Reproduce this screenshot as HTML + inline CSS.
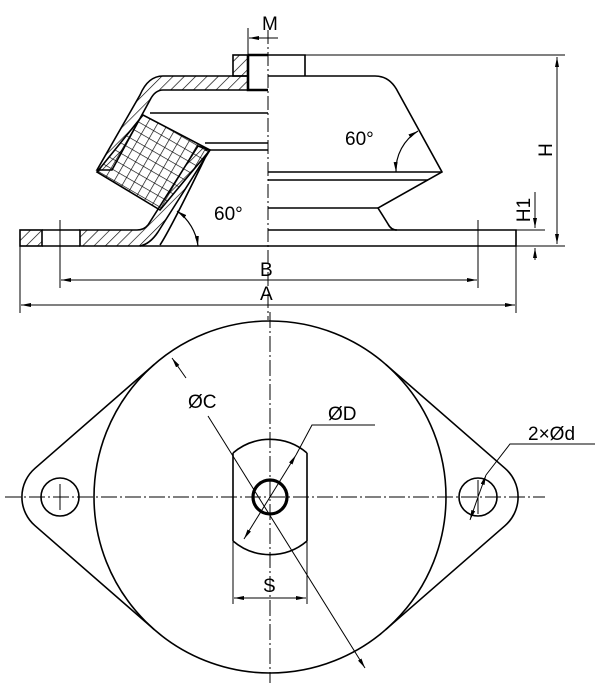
<!DOCTYPE html>
<html><head><meta charset="utf-8"><style>
html,body{margin:0;padding:0;background:#fff}
svg{display:block}
text{font-family:"Liberation Sans Narrow","Liberation Sans",sans-serif;fill:#000}
</style></head><body>
<svg width="602" height="683" viewBox="0 0 602 683" xmlns="http://www.w3.org/2000/svg">
<defs>
<pattern id="h" width="8" height="8" patternUnits="userSpaceOnUse" patternTransform="rotate(45)">
<line x1="0" y1="0" x2="0" y2="8" stroke="#000" stroke-width="1.3"/></pattern>
<pattern id="x" width="9" height="9" patternUnits="userSpaceOnUse" patternTransform="rotate(30)">
<path d="M0 0V9M0 0H9" stroke="#000" stroke-width="1.3" fill="none"/></pattern>
<marker id="a" markerWidth="10" markerHeight="6" refX="10" refY="3" orient="auto-start-reverse" markerUnits="userSpaceOnUse">
<path d="M0 1L10 3L0 5z" fill="#000"/></marker>
</defs>
<g stroke="#000" fill="none" stroke-width="1.6">
<rect x="233" y="55" width="15" height="21" fill="url(#h)"/>
<path d="M163 76H248V90H163Q155 90 150 100L112 170L97 170L140 95Q148 76 163 76Z" fill="url(#h)"/>
<path d="M97 172L143 115L210 150L160 210Z" fill="url(#x)"/>
<path d="M248 55H268M248 55V90H268" stroke-width="2.6"/>
<line x1="150" y1="113" x2="268" y2="113"/>
<line x1="205" y1="143" x2="268" y2="143"/>
<line x1="205" y1="150" x2="268" y2="150"/>
<path d="M137 230H80V246H140Q150 244 158 232L210 150L198 146L148 225Q144 230 137 230Z" fill="url(#h)"/>
<rect x="20" y="230" width="22" height="16" fill="url(#h)"/>
<path d="M42 230H80M42 246H80"/>
<path d="M160 245Q170 230 205 158"/>
<line x1="140" y1="246" x2="268" y2="246"/>
<path d="M177 211A50 50 0 0 1 198 246" stroke-width="1.2" marker-start="url(#a)" marker-end="url(#a)"/>
<path d="M268 55H305V76M268 76H375Q390 76 398 92L442 172L378 208L388 224Q391 230 397 230"/>
<line x1="268" y1="172" x2="442" y2="172"/>
<line x1="268" y1="180" x2="428" y2="180"/>
<line x1="268" y1="208" x2="378" y2="208"/>
<path d="M268 230H516V246H268"/>
<path d="M396 172A46 46 0 0 1 418 131" stroke-width="1.2" marker-start="url(#a)" marker-end="url(#a)"/>
<g stroke-width="1">
<line x1="305" y1="55" x2="565" y2="55"/>
<line x1="516" y1="246" x2="565" y2="246"/>
<line x1="516" y1="230" x2="545" y2="230"/>
<line x1="557" y1="57" x2="557" y2="244" marker-start="url(#a)" marker-end="url(#a)"/>
<line x1="535" y1="192" x2="535" y2="228" marker-end="url(#a)"/>
<line x1="535" y1="260" x2="535" y2="248" marker-end="url(#a)"/>
<line x1="20" y1="246" x2="20" y2="313"/>
<line x1="516" y1="246" x2="516" y2="313"/>
<line x1="60" y1="220" x2="60" y2="288"/>
<line x1="478" y1="220" x2="478" y2="288"/>
<line x1="61" y1="280" x2="477" y2="280" marker-start="url(#a)" marker-end="url(#a)"/>
<line x1="21" y1="305" x2="515" y2="305" marker-start="url(#a)" marker-end="url(#a)"/>
<line x1="248" y1="28" x2="248" y2="55"/>
<line x1="278" y1="38" x2="249" y2="38" marker-end="url(#a)"/>
<line x1="268" y1="30" x2="268" y2="320" stroke-dasharray="14 3 2 3"/>
</g>
<circle cx="270" cy="497" r="176"/>
<path d="M154.4 364.3L35 468.3A38 38 0 0 0 35 525.7L154.4 629.7"/>
<path d="M385.6 364.3L505 468.3A38 38 0 0 1 505 525.7L385.6 629.7"/>
<circle cx="60" cy="497" r="19"/>
<circle cx="478" cy="497" r="19"/>
<path d="M233 453A57 57 0 0 1 307 453M233 541A57 57 0 0 0 307 541M233 453V541M307 453V541"/>
<circle cx="270" cy="497" r="17" stroke-width="3.2"/>
<g stroke-width="1">
<line x1="5" y1="497" x2="545" y2="497" stroke-dasharray="16 3 2 3"/>
<line x1="270" y1="312" x2="270" y2="683" stroke-dasharray="16 3 2 3"/>
<line x1="60" y1="484" x2="60" y2="510"/><line x1="54" y1="497" x2="66" y2="497"/>
<line x1="478" y1="480" x2="478" y2="514"/>
<line x1="186" y1="378" x2="172" y2="358" marker-end="url(#a)"/>
<line x1="208" y1="416" x2="365" y2="668" marker-end="url(#a)"/>
<line x1="270" y1="497" x2="296" y2="455" marker-end="url(#a)"/>
<line x1="270" y1="497" x2="244" y2="539" marker-end="url(#a)"/>
<path d="M296 455L312 425H375"/>
<line x1="478" y1="497" x2="470" y2="520" marker-end="url(#a)"/>
<line x1="478" y1="497" x2="486" y2="475" marker-end="url(#a)"/>
<path d="M486 475L510 444H595"/>
<line x1="233" y1="541" x2="233" y2="604"/>
<line x1="307" y1="541" x2="307" y2="604"/>
<line x1="234" y1="598" x2="306" y2="598" marker-start="url(#a)" marker-end="url(#a)"/>
</g>
</g>
<g font-size="19">
<text x="262" y="30">M</text>
<text x="345" y="145">60°</text>
<text x="214" y="220">60°</text>
<text x="260" y="276">B</text>
<text x="260" y="300">A</text>
<text x="0" y="0" transform="translate(552,150) rotate(-90)" text-anchor="middle">H</text>
<text x="0" y="0" transform="translate(530,210) rotate(-90)" text-anchor="middle">H1</text>
<text x="188" y="408">ØC</text>
<text x="328" y="420">ØD</text>
<text x="528" y="440">2×Ød</text>
<text x="263" y="592">S</text>
</g>
</svg>
</body></html>
